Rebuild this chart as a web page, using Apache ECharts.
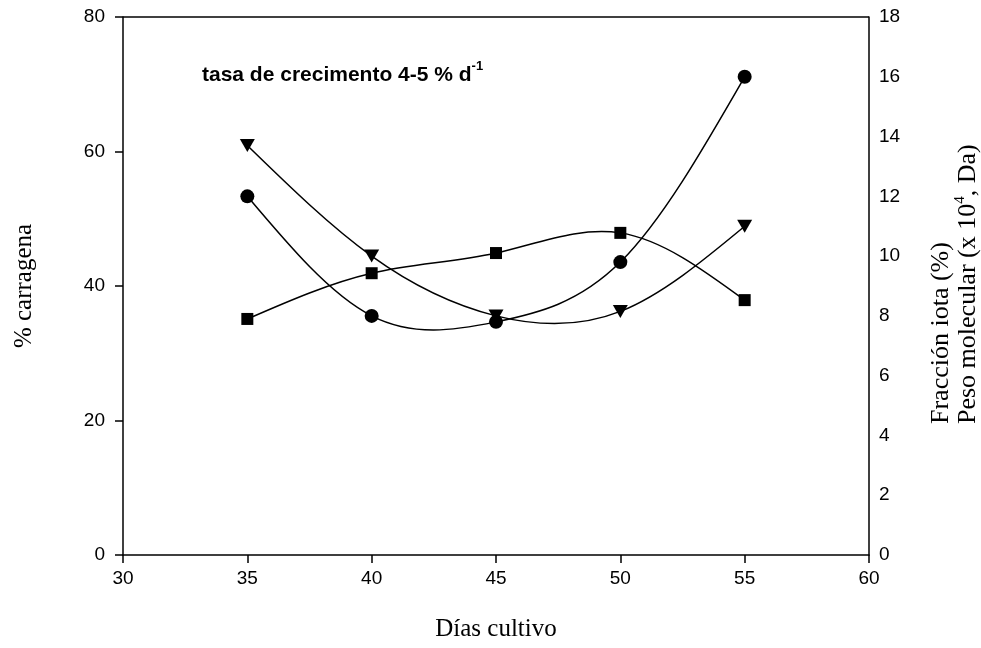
<!DOCTYPE html>
<html>
<head>
<meta charset="utf-8">
<script src="https://cdn.jsdelivr.net/npm/echarts@6/dist/echarts.min.js"></script>
<style>
html,body{margin:0;padding:0;background:#fff;}
#chart{width:981px;height:648px;}
</style>
</head>
<body>
<div id="chart"></div>
<script>
// Data
var days = [35, 40, 45, 50, 55];
var carragena = [35.1, 41.9, 44.9, 47.9, 37.9];        // squares, left axis
var pesoMolecular = [12.0, 8.0, 7.8, 9.8, 16.0];        // circles, right axis
var fraccionIota = [13.7, 10.0, 8.0, 8.15, 11.0];       // triangles, right axis
var xTicks = {min: 30, max: 60, interval: 5};
var leftTicks = {min: 0, max: 80, interval: 20};
var rightTicks = {min: 0, max: 18, interval: 2};

function pairs(xs, ys) { return xs.map(function (x, i) { return [x, ys[i]]; }); }

// Natural cubic spline through the pixel positions of the data points,
// returned as the bezier control points of the segment that starts at point i.
function splineSegment(pts, i) {
  var n = pts.length;
  var h = [], M = new Array(n).fill(0);
  for (var k = 0; k < n - 1; k++) h.push(pts[k + 1][0] - pts[k][0]);
  if (n > 2) {
    var a = [], b = [], c = [], d = [];
    for (var k = 1; k < n - 1; k++) {
      a.push(h[k - 1]); b.push(2 * (h[k - 1] + h[k])); c.push(h[k]);
      d.push(6 * ((pts[k + 1][1] - pts[k][1]) / h[k] - (pts[k][1] - pts[k - 1][1]) / h[k - 1]));
    }
    var m = b.length;
    for (var k = 1; k < m; k++) {
      var w = a[k] / b[k - 1];
      b[k] -= w * c[k - 1]; d[k] -= w * d[k - 1];
    }
    var sol = new Array(m);
    sol[m - 1] = d[m - 1] / b[m - 1];
    for (var k = m - 2; k >= 0; k--) sol[k] = (d[k] - c[k] * sol[k + 1]) / b[k];
    for (var k = 0; k < m; k++) M[k + 1] = sol[k];
  }
  var p0 = pts[i], p1 = pts[i + 1], hh = h[i];
  var slope = (p1[1] - p0[1]) / hh;
  var s0 = slope - hh * (2 * M[i] + M[i + 1]) / 6;
  var s1 = slope + hh * (M[i] + 2 * M[i + 1]) / 6;
  return {
    x1: p0[0], y1: p0[1], x2: p1[0], y2: p1[1],
    cpx1: p0[0] + hh / 3, cpy1: p0[1] + s0 * hh / 3,
    cpx2: p1[0] - hh / 3, cpy2: p1[1] - s1 * hh / 3
  };
}

function curveSeries(values, axisIndex) {
  return {
    type: 'custom', yAxisIndex: axisIndex, data: pairs(days, values), z: 2,
    silent: true, clip: false,
    renderItem: function (params, api) {
      var i = params.dataIndex;
      if (i >= days.length - 1) return null;
      var pts = days.map(function (d, k) { return api.coord([d, values[k]]); });
      return {
        type: 'bezierCurve',
        shape: splineSegment(pts, i),
        style: {stroke: '#000', lineWidth: 1.5, fill: null}
      };
    }
  };
}

function markerSeries(values, axisIndex, symbol, size, rotate) {
  return {
    type: 'scatter', yAxisIndex: axisIndex, data: pairs(days, values), z: 3,
    symbol: symbol, symbolSize: size, symbolRotate: rotate || 0,
    itemStyle: {color: '#000', opacity: 1}
  };
}

var chart = echarts.init(document.getElementById('chart'));
var sans = 'Liberation Sans, Arial, sans-serif';
var serif = 'Liberation Serif, Times New Roman, serif';

chart.setOption({
  animation: false,
  backgroundColor: '#fff',
  grid: {left: 123, right: 112, top: 17, bottom: 93},
  xAxis: {
    type: 'value', min: xTicks.min, max: xTicks.max, interval: xTicks.interval,
    axisLine: {show: true, lineStyle: {color: '#000', width: 1.5}},
    axisTick: {show: true, inside: false, length: 8, lineStyle: {color: '#000', width: 1.5}},
    axisLabel: {color: '#000', fontFamily: sans, fontSize: 19, margin: 14},
    splitLine: {show: false}
  },
  yAxis: [{
    type: 'value', position: 'left', min: leftTicks.min, max: leftTicks.max, interval: leftTicks.interval,
    axisLine: {show: true, lineStyle: {color: '#000', width: 1.5}},
    axisTick: {show: true, inside: false, length: 8, lineStyle: {color: '#000', width: 1.5}},
    axisLabel: {color: '#000', fontFamily: sans, fontSize: 19, margin: 18},
    splitLine: {show: false}
  }, {
    type: 'value', position: 'right', min: rightTicks.min, max: rightTicks.max, interval: rightTicks.interval,
    axisLine: {show: true, lineStyle: {color: '#000', width: 1.5}},
    axisTick: {show: false},
    axisLabel: {color: '#000', fontFamily: sans, fontSize: 19, margin: 10},
    splitLine: {show: false}
  }],
  series: [
    curveSeries(carragena, 0),
    curveSeries(pesoMolecular, 1),
    curveSeries(fraccionIota, 1),
    markerSeries(carragena, 0, 'rect', 12),
    markerSeries(pesoMolecular, 1, 'circle', 14),
    markerSeries(fraccionIota, 1, 'triangle', [15, 13], 180)
  ],
  graphic: [{
    type: 'line', shape: {x1: 123, y1: 17, x2: 869, y2: 17}, style: {stroke: '#000', lineWidth: 1.5}
  }, {
    type: 'text', left: 202, top: 60,
    style: {
      text: '{b|tasa de crecimento 4-5 % d}{s|-1}',
      rich: {
        b: {fontFamily: sans, fontWeight: 'bold', fontSize: 21, fill: '#000', verticalAlign: 'bottom', lineHeight: 26},
        s: {fontFamily: sans, fontWeight: 'bold', fontSize: 13, fill: '#000', verticalAlign: 'top', padding: [0, 0, 12, 0]}
      }
    }
  }, {
    type: 'text', x: 496, y: 629,
    style: {text: 'Días cultivo', fontFamily: serif, fontSize: 25, fill: '#000', align: 'center', verticalAlign: 'middle'}
  }, {
    type: 'text', x: 24, y: 286, rotation: Math.PI / 2,
    style: {text: '% carragena', fontFamily: serif, fontSize: 25, fill: '#000', align: 'center', verticalAlign: 'middle'}
  }, {
    type: 'text', x: 941, y: 424, rotation: Math.PI / 2,
    style: {text: 'Fracción iota (%)', fontFamily: serif, fontSize: 26, fill: '#000', align: 'left', verticalAlign: 'middle'}
  }, {
    type: 'text', x: 967, y: 424, rotation: Math.PI / 2,
    style: {
      text: '{n|Peso molecular (x 10}{s|4}{n|, Da)}', align: 'left', verticalAlign: 'middle',
      rich: {
        n: {fontFamily: serif, fontSize: 26, fill: '#000', verticalAlign: 'bottom', lineHeight: 29},
        s: {fontFamily: serif, fontSize: 15, fill: '#000', verticalAlign: 'top', padding: [0, 0, 14, 0]}
      }
    }
  }]
});
</script>
</body>
</html>
